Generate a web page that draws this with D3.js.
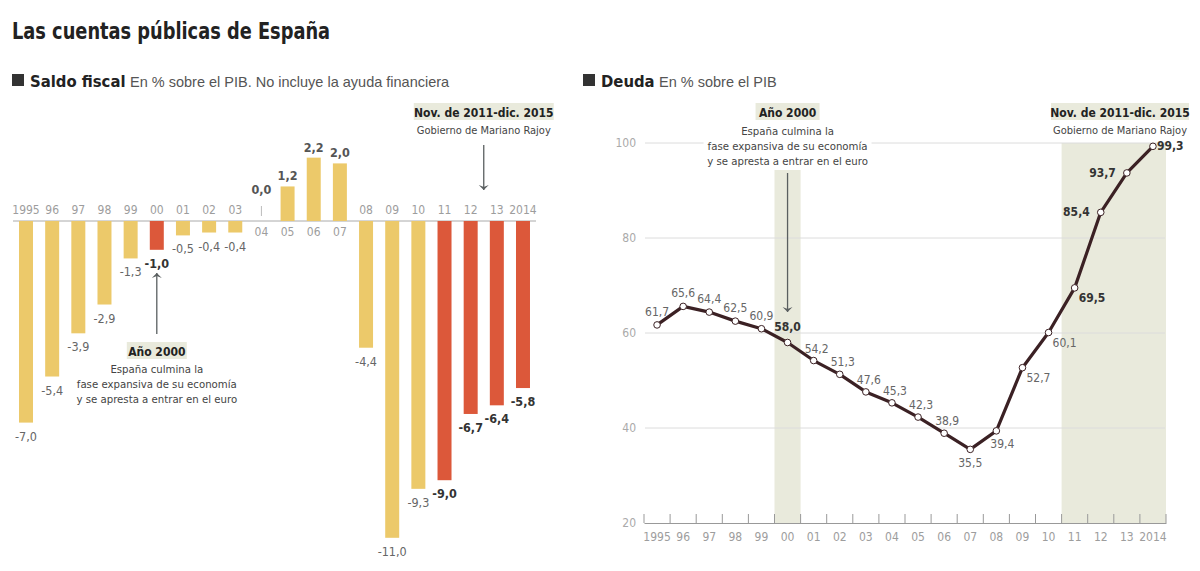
<!DOCTYPE html>
<html><head><meta charset="utf-8">
<script src="https://cdn.jsdelivr.net/npm/d3@7"></script>
<style>
body{margin:0;background:#fff;}
svg{display:block;font-family:"Liberation Sans Narrow","DejaVu Sans Condensed",sans-serif;}
</style></head><body>
<svg id="c" width="1200" height="571"></svg>
<script>
const years = ["1995","96","97","98","99","00","01","02","03","04","05","06","07","08","09","10","11","12","13","2014"];
const saldo = [-7.0,-5.4,-3.9,-2.9,-1.3,-1.0,-0.5,-0.4,-0.4,0.0,1.2,2.2,2.0,-4.4,-11.0,-9.3,-9.0,-6.7,-6.4,-5.8];
const deuda = [61.7,65.6,64.4,62.5,60.9,58.0,54.2,51.3,47.6,45.3,42.3,38.9,35.5,39.4,52.7,60.1,69.5,85.4,93.7,99.3];
const highlightYears = ["00","11","12","13","2014"];
const rajoyYears = ["11","12","13","2014"];
const deudaTicks = [20,40,60,80,100];
const annoText = ["España culmina la","fase expansiva de su economía","y se apresta a entrar en el euro"];

const fmt = v => v.toFixed(1).replace(".", ",");
const svg = d3.select("#c");
const YEL = "#ecc96a", RED = "#dc583a", SHADE = "#e9eadc", LINE = "#3b2124";
const NARROW = '"Liberation Sans Narrow","DejaVu Sans Condensed",sans-serif';
const REG = '"Liberation Sans",Arial,sans-serif';

// Title (horizontally condensed)
svg.append("text").attr("transform","translate(12,39) scale(0.86,1)").attr("font-size",23).attr("font-weight","bold")
  .attr("fill","#222").text("Las cuentas públicas de España");

function header(x, title, sub, subX){
  svg.append("rect").attr("x",x).attr("y",74).attr("width",12).attr("height",12).attr("fill","#333");
  svg.append("text").attr("x",x+18).attr("y",87).attr("font-size",16.5).attr("font-weight","bold").attr("fill","#222").text(title);
  svg.append("text").attr("x",subX).attr("y",87).attr("font-size",14.5).attr("font-family",REG).attr("fill","#555").text(sub);
}
header(12,"Saldo fiscal","En % sobre el PIB. No incluye la ayuda financiera",130);
header(583,"Deuda","En % sobre el PIB",659);

// ---------- Left: Saldo fiscal ----------
const xL = d3.scaleBand().domain(years).range([13,536]).paddingInner(0.465).paddingOuter(0.23);
const yL = d3.scaleLinear().domain([-11,2.2]).range([221+11*28.8, 221-2.2*28.8]);
const gL = svg.append("g");
const dataL = years.map((y,i)=>({y, v:saldo[i]}));

gL.append("line").attr("x1",13).attr("x2",536).attr("y1",yL(0)).attr("y2",yL(0)).attr("stroke","#aaa").attr("stroke-width",1);

gL.selectAll("rect.bar").data(dataL.filter(d=>d.v!==0)).join("rect")
  .attr("x",d=>xL(d.y)).attr("width",xL.bandwidth())
  .attr("y",d=>yL(Math.max(0,d.v))).attr("height",d=>Math.abs(yL(d.v)-yL(0)))
  .attr("fill",d=>highlightYears.includes(d.y)?RED:YEL);

// zero-value marker
dataL.filter(d=>d.v===0).forEach(d=>{
  const cx = xL(d.y)+xL.bandwidth()/2;
  gL.append("line").attr("x1",cx).attr("x2",cx).attr("y1",yL(0)-5).attr("y2",yL(0)-15).attr("stroke","#bbb").attr("stroke-width",1);
});

// year labels
gL.selectAll("text.yr").data(dataL).join("text")
  .attr("x",d=>xL(d.y)+xL.bandwidth()/2)
  .attr("y",d=>d.v<0? yL(0)-7 : yL(0)+15)
  .attr("text-anchor","middle").attr("font-size",12).attr("fill","#9d9d9d").text(d=>d.y);

// value labels
gL.selectAll("text.val").data(dataL).join("text")
  .attr("x",d=>xL(d.y)+xL.bandwidth()/2)
  .attr("y",d=>d.v<0? yL(d.v)+18 : (d.v===0? yL(0)-27 : yL(d.v)-6))
  .attr("text-anchor","middle").attr("font-size",12.5)
  .attr("font-weight",d=>(highlightYears.includes(d.y)||d.v>=0)?"bold":"normal")
  .attr("fill",d=>highlightYears.includes(d.y)?"#333":(d.v>=0?"#555":"#666"))
  .text(d=>fmt(d.v));

function arrow(g,x,y1,y2){ // arrow from y1 to y2, head at y2
  g.append("line").attr("x1",x).attr("x2",x).attr("y1",y1).attr("y2",y2).attr("stroke","#5a5f60").attr("stroke-width",1.3);
  const dir = y2>y1?1:-1;
  g.append("path").attr("d",`M${x-5},${y2-dir*5} L${x},${y2} L${x+5},${y2-dir*5} L${x},${y2-dir*3} Z`).attr("fill","#5a5f60");
}
function labelBox(g,cx,cy,txt,w){
  g.append("rect").attr("x",cx-w/2).attr("y",cy-9).attr("width",w).attr("height",17).attr("fill",SHADE);
  g.append("text").attr("x",cx).attr("y",cy+4.5).attr("text-anchor","middle").attr("font-size",12).attr("font-weight","bold").attr("fill","#222").text(txt);
}
function lines(g,cx,y0,arr){
  arr.forEach((t,i)=>g.append("text").attr("x",cx).attr("y",y0+i*15).attr("text-anchor","middle").attr("font-size",11.3).attr("fill","#444").text(t));
}
// Año 2000 (left)
const c00L = xL("00")+xL.bandwidth()/2;
arrow(gL,c00L,334,273);
labelBox(gL,c00L,351,"Año 2000",60);
lines(gL,c00L,373,annoText);
// Rajoy (left)
const cRL = (xL("11")+xL("2014")+xL.bandwidth())/2;
labelBox(gL,cRL,112,"Nov. de 2011-dic. 2015",140);
gL.append("text").attr("x",cRL).attr("y",134).attr("text-anchor","middle").attr("font-size",11).attr("fill","#444").text("Gobierno de Mariano Rajoy");
arrow(gL,cRL,145,190);

// ---------- Right: Deuda ----------
const xR = d3.scaleBand().domain(years).range([644,1166]);
const yR = d3.scaleLinear().domain([20,100]).range([523,143]);
const gR = svg.append("g");
const cx = d => xR(d)+xR.bandwidth()/2;

// shading
gR.append("rect").attr("x",xR("00")).attr("width",xR.bandwidth()).attr("y",170).attr("height",yR(20)-170).attr("fill",SHADE);
gR.append("rect").attr("x",xR("11")).attr("width",1166-xR("11")).attr("y",yR(100)).attr("height",yR(20)-yR(100)).attr("fill",SHADE);

// grid
gR.selectAll("line.grid").data(deudaTicks.filter(t=>t>20)).join("line")
  .attr("x1",645).attr("x2",1165).attr("y1",d=>yR(d)).attr("y2",d=>yR(d)).attr("stroke","#dcdcdc").attr("stroke-width",1);

// y axis labels
const yAx = gR.append("g").attr("transform","translate(636,0)")
  .call(d3.axisLeft(yR).tickValues(deudaTicks).tickSize(0).tickPadding(0).tickFormat(d=>d));
yAx.select(".domain").remove();
yAx.selectAll("text").attr("font-size",12).attr("fill","#aaa").attr("font-family",NARROW);

// x axis
const xAx = gR.append("g").attr("transform",`translate(0,${yR(20)})`)
  .call(d3.axisBottom(xR).tickSize(0).tickPadding(9));
xAx.select(".domain").attr("stroke","#999");
xAx.selectAll("text").attr("font-size",12).attr("fill","#9d9d9d").attr("font-family",NARROW);
const bounds = years.map(d=>xR(d)).concat([xR.range()[1]]);
gR.selectAll("line.tk").data(bounds).join("line")
  .attr("x1",d=>d).attr("x2",d=>d).attr("y1",yR(20)).attr("y2",yR(20)-9).attr("stroke","#999").attr("stroke-width",1);

// Año 2000 annotation (right)
const c00R = cx("00");
gR.append("rect").attr("x",c00R-84).attr("y",122).attr("width",168).attr("height",45).attr("fill","#fff");
labelBox(gR,c00R,112,"Año 2000",64);
lines(gR,c00R,135,annoText);
arrow(gR,c00R,173,312);
// Rajoy (right)
const cRR = 1120;
labelBox(gR,cRR,112,"Nov. de 2011-dic. 2015",138);
gR.append("text").attr("x",cRR).attr("y",134).attr("text-anchor","middle").attr("font-size",11).attr("fill","#444").text("Gobierno de Mariano Rajoy");

// line
const dataR = years.map((y,i)=>({y, v:deuda[i], i}));
gR.append("path").datum(dataR).attr("fill","none").attr("stroke",LINE).attr("stroke-width",3.2)
  .attr("stroke-linejoin","round").attr("d",d3.line().x(d=>cx(d.y)).y(d=>yR(d.v)));
gR.selectAll("circle").data(dataR).join("circle")
  .attr("cx",d=>cx(d.y)).attr("cy",d=>yR(d.v)).attr("r",3.3).attr("fill","#fff").attr("stroke",LINE).attr("stroke-width",1);

function place(i){
  if(i<=4) return {dx:0,dy:-9,a:"middle"};
  if(i===5) return {dx:0,dy:-12,a:"middle"};
  if(i<=11) return {dx:3,dy:-8,a:"middle"};
  if(i===12) return {dx:0,dy:18,a:"middle"};
  if(i===13) return {dx:-6,dy:17,a:"start"};
  if(i<=16) return {dx:4,dy:14,a:"start"};
  if(i<=18) return {dx:-11,dy:4,a:"end"};
  return {dx:4,dy:4,a:"start"};
}
gR.selectAll("text.pl").data(dataR).join("text")
  .attr("x",d=>cx(d.y)+place(d.i).dx).attr("y",d=>yR(d.v)+place(d.i).dy)
  .attr("text-anchor",d=>place(d.i).a).attr("font-size",12)
  .attr("font-weight",d=>(d.y==="00"||rajoyYears.includes(d.y))?"bold":"normal")
  .attr("fill",d=>(d.y==="00"||rajoyYears.includes(d.y))?"#333":"#666")
  .text(d=>fmt(d.v));
</script></body></html>
